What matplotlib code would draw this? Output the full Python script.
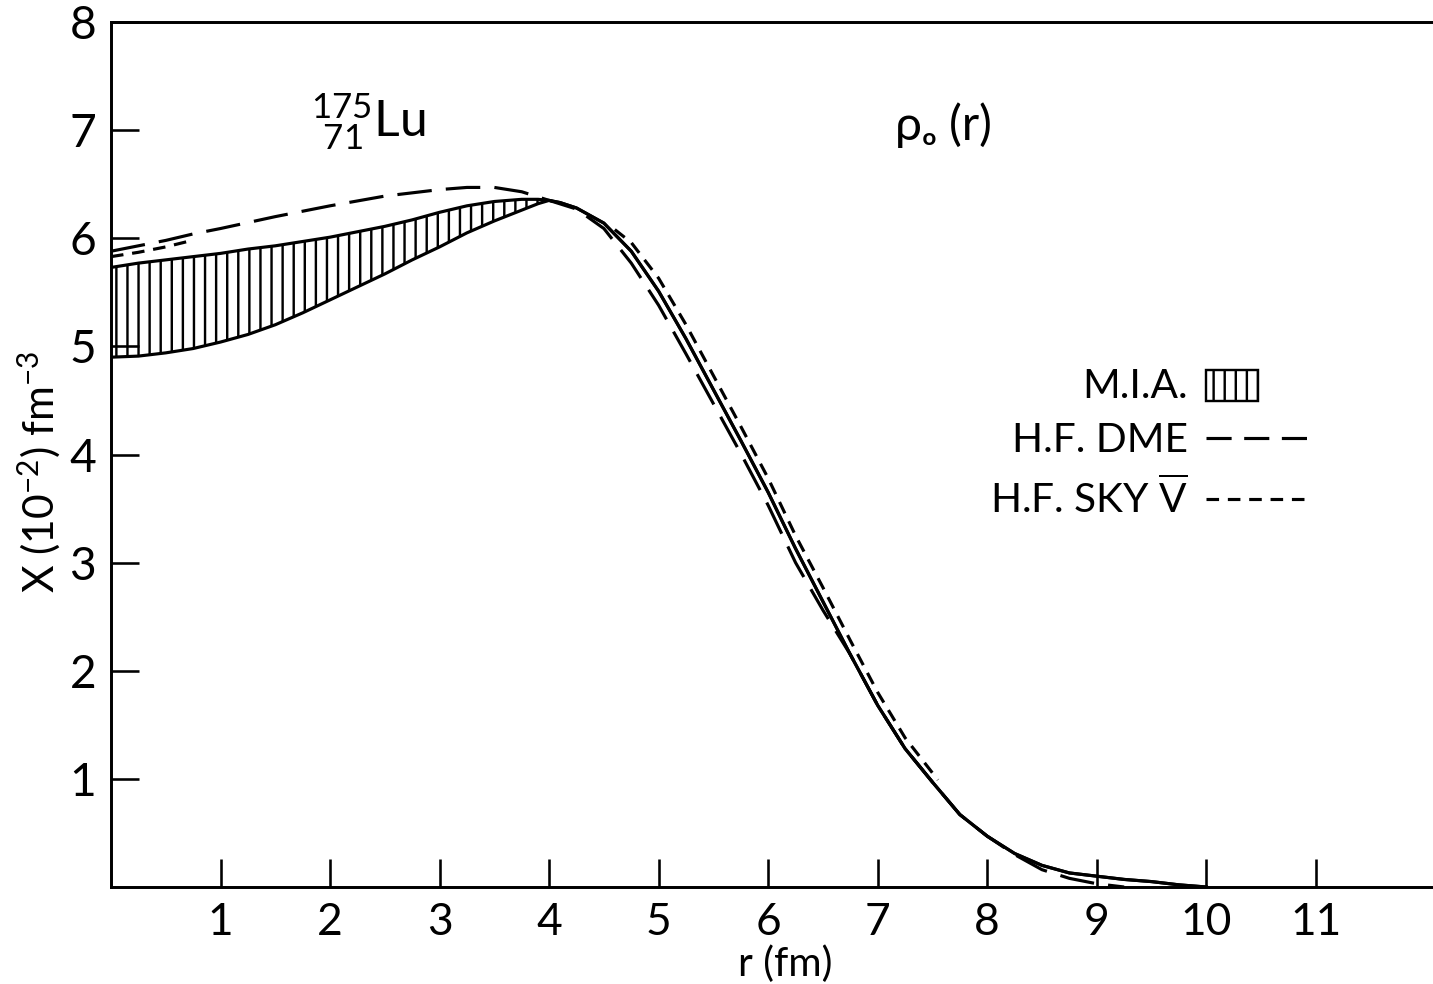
import numpy as np
import matplotlib
matplotlib.use("Agg")
import matplotlib.pyplot as plt
import matplotlib.patches as mpatches
from matplotlib.lines import Line2D
from matplotlib.legend_handler import HandlerPatch

plt.rcParams['font.family'] = ['Lato', 'DejaVu Sans']
plt.rcParams['mathtext.fontset'] = 'custom'
plt.rcParams['mathtext.rm'] = 'Lato'
plt.rcParams['mathtext.default'] = 'regular'
plt.rcParams['hatch.linewidth'] = 1.3

# M.I.A. band (upper / lower edge), identical beyond r = 4 fm
mia_r = [0.0, 0.25, 0.5, 0.75, 1.0, 1.25, 1.5, 1.75, 2.0, 2.25, 2.5, 2.75, 3.0,
         3.25, 3.5, 3.75, 3.9, 4.0, 4.1, 4.25, 4.5, 4.75, 5.0, 5.25, 5.5, 5.75,
         6.0, 6.25, 6.5, 6.75, 7.0, 7.25, 7.5, 7.75, 8.0, 8.25, 8.5, 8.75, 9.0,
         9.25, 9.5, 9.75, 10.0]
mia_upper = [5.73, 5.77, 5.80, 5.83, 5.86, 5.90, 5.93, 5.97, 6.01, 6.06, 6.11,
             6.17, 6.24, 6.30, 6.34, 6.36, 6.36, 6.35, 6.33, 6.28, 6.14, 5.88,
             5.51, 5.07, 4.60, 4.13, 3.65, 3.13, 2.64, 2.15, 1.68, 1.28, 0.97,
             0.67, 0.47, 0.31, 0.20, 0.13, 0.10, 0.07, 0.05, 0.02, 0.0]
mia_lower = [4.90, 4.91, 4.94, 4.98, 5.04, 5.11, 5.20, 5.31, 5.43, 5.55, 5.67,
             5.80, 5.92, 6.05, 6.16, 6.26, 6.32, 6.35, 6.33, 6.28, 6.14, 5.88,
             5.51, 5.07, 4.60, 4.13, 3.65, 3.13, 2.64, 2.15, 1.68, 1.28, 0.97,
             0.67, 0.47, 0.31, 0.20, 0.13, 0.10, 0.07, 0.05, 0.02, 0.0]

# H.F. DME
dme_r = [0.0, 0.25, 0.5, 0.75, 1.0, 1.5, 2.0, 2.5, 3.0, 3.25, 3.5, 3.75, 4.0,
         4.25, 4.5, 4.75, 5.0, 5.25, 5.5, 5.75, 6.0, 6.25, 6.5, 6.75, 7.0,
         7.25, 7.5, 7.75, 8.0, 8.25, 8.5, 8.75, 9.0, 9.25]
dme_v = [5.88, 5.93, 5.98, 6.04, 6.09, 6.20, 6.30, 6.39, 6.45, 6.47, 6.47,
         6.43, 6.35, 6.27, 6.09, 5.77, 5.38, 4.93, 4.47, 4.01, 3.53, 3.00,
         2.56, 2.15, 1.68, 1.28, 0.97, 0.67, 0.47, 0.30, 0.16, 0.08, 0.03, 0.0]

# H.F. SKY V (two visible pieces)
sky_r1 = [0.0, 0.25, 0.5, 0.7]
sky_v1 = [5.83, 5.87, 5.92, 5.97]
sky_r2 = [4.6, 4.75, 5.0, 5.25, 5.5, 5.75, 6.0, 6.25, 6.5, 6.75, 7.0, 7.25, 7.55]
sky_v2 = [6.08, 5.96, 5.63, 5.20, 4.73, 4.26, 3.78, 3.25, 2.77, 2.28, 1.80,
          1.38, 0.99]

x_ticks = [1, 2, 3, 4, 5, 6, 7, 8, 9, 10, 11]
y_ticks = [1, 2, 3, 4, 5, 6, 7, 8]

DPI = 133
fig = plt.figure(figsize=(1433 / DPI, 984 / DPI), dpi=DPI)
ax = fig.add_axes([111 / 1433, 1 - 887 / 984, 1 - 111 / 1433, (887 - 22) / 984])

lw = 1.7
dme_dash = (11, 4.5)
sky_dash = (4, 2.8)

ax.fill_between(mia_r, mia_lower, mia_upper, facecolor='none', edgecolor='black',
                hatch='||', linewidth=0)
ax.plot(mia_r, mia_upper, color='black', lw=lw)
ax.plot(mia_r, mia_lower, color='black', lw=lw)
ax.plot(dme_r, dme_v, color='black', lw=lw, dashes=dme_dash)
ax.plot(sky_r1, sky_v1, color='black', lw=lw, dashes=sky_dash)
ax.plot(sky_r2, sky_v2, color='black', lw=lw, dashes=sky_dash)

ax.set_xlim(0, 12.07)
ax.set_ylim(0, 8)
ax.spines['right'].set_visible(False)
for s in ['left', 'bottom', 'top']:
    ax.spines[s].set_linewidth(1.6)

ax.set_xticks(x_ticks)
ax.set_yticks(y_ticks)
ax.tick_params(direction='in', length=15, width=1.4, labelsize=25)
ax.tick_params(axis='x', labelsize=24, pad=8)
ax.tick_params(axis='y', pad=8)

ax.set_xlabel('r (fm)', fontsize=22)
ax.xaxis.set_label_coords(0.51, -0.068)
ax.set_ylabel('X (10$^{-2}$) fm$^{-3}$', fontsize=23)
ax.yaxis.set_label_coords(-0.036, 0.48)

ax.text(2.35, 7.08, r'$^{175}_{\ 71}$Lu', fontsize=27, ha='center', va='center')
ax.text(7.6, 7.05, 'ρₒ (r)', fontsize=26, ha='center', va='center')


def narrow_box(legend, orig_handle, xdescent, ydescent, width, height, fontsize):
    return mpatches.Rectangle((-xdescent, -ydescent - 0.1 * height),
                              width * 0.5, height * 1.1)


handles = [
    mpatches.Patch(facecolor='none', edgecolor='black', hatch='||', linewidth=1.3),
    Line2D([], [], color='black', lw=lw, dashes=(8, 4)),
    Line2D([], [], color='black', lw=lw, dashes=sky_dash),
]
labels = ['M.I.A.', 'H.F. DME', r'H.F. SKY $\overline{\mathrm{V}}$']
ax.legend(handles, labels, markerfirst=False, frameon=False, fontsize=22,
          loc='upper right', bbox_to_anchor=(0.907, 0.6),
          handlelength=2.55, handletextpad=0.45, labelspacing=0.42,
          borderpad=0, borderaxespad=0,
          handler_map={mpatches.Patch: HandlerPatch(patch_func=narrow_box)})

fig.savefig('out.png', dpi=DPI)
